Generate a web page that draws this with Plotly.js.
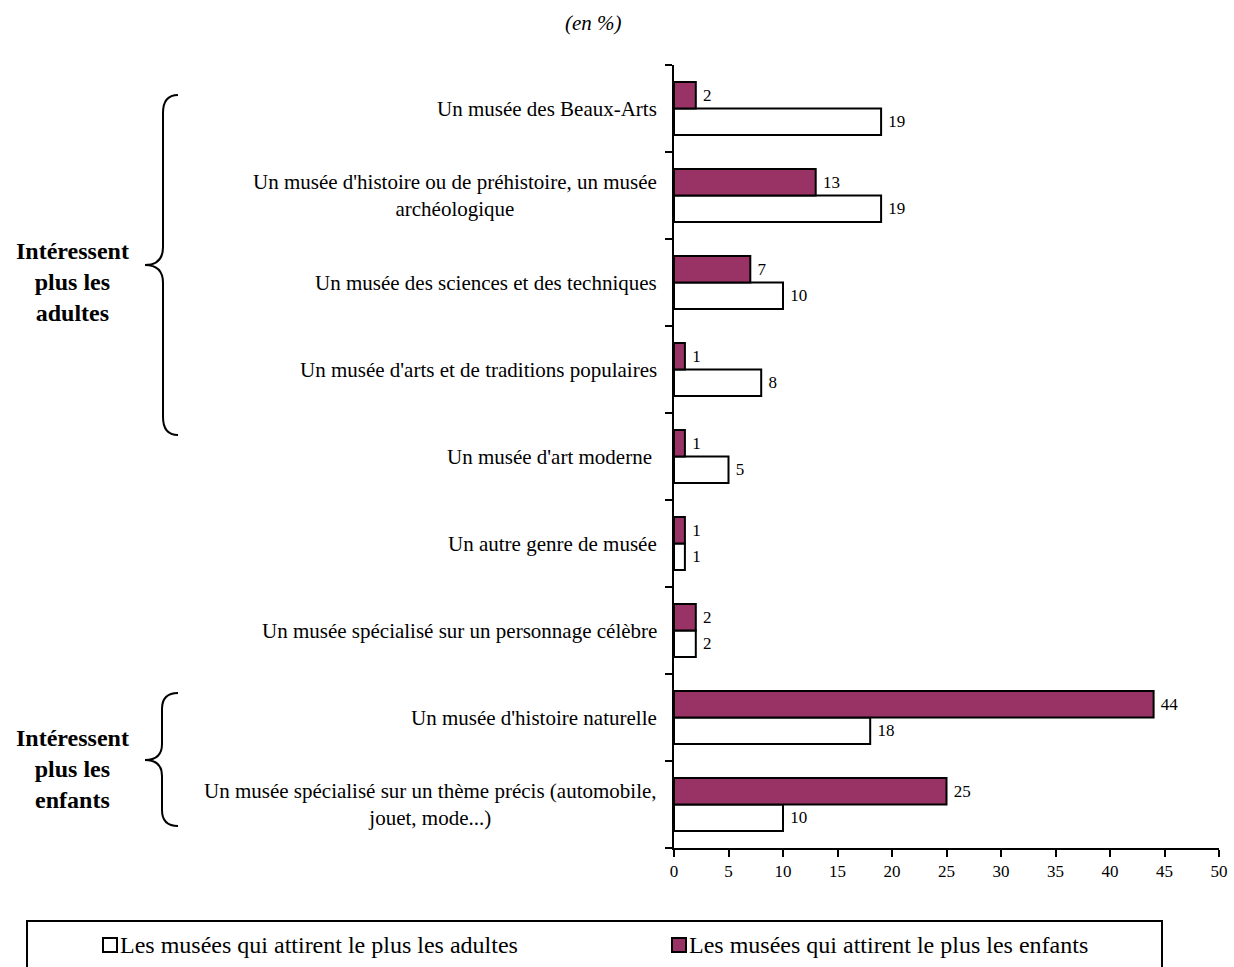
<!DOCTYPE html>
<html>
<head>
<meta charset="utf-8">
<script src="https://cdn.plot.ly/plotly-3.0.1.min.js"></script>
<style>html,body{margin:0;padding:0;background:#fff;}#chart{width:1234px;height:967px;}</style>
</head>
<body>
<div id="chart"></div>
<script>
const categories = [
  "Un musée des Beaux-Arts",
  "Un musée d'histoire ou de préhistoire, un musée<br>archéologique",
  "Un musée des sciences et des techniques",
  "Un musée d'arts et de traditions populaires",
  "Un musée d'art moderne ",
  "Un autre genre de musée",
  "Un musée spécialisé sur un personnage célèbre",
  "Un musée d'histoire naturelle",
  "Un musée spécialisé sur un thème précis (automobile,<br>jouet, mode...)"
];
const adultes = [19, 19, 10, 8, 5, 1, 2, 18, 10];
const enfants = [2, 13, 7, 1, 1, 1, 2, 44, 25];
const seriesNames = ["Les musées qui attirent le plus les adultes", "Les musées qui attirent le plus les enfants"];
const xTicks = [0, 5, 10, 15, 20, 25, 30, 35, 40, 45, 50];
const groupLabels = ["Intéressent<br>plus les<br>adultes", "Intéressent<br>plus les<br>enfants"];
const unitLabel = "<i>(en %)</i>";

const W = 1234, H = 967;
const M = {l: 674, r: 15, t: 65, b: 119};
const pw = W - M.l - M.r, ph = H - M.t - M.b;
const px = x => (x - M.l) / pw;
const py = y => (H - M.b - y) / ph;
const FONT = "Liberation Serif, Times New Roman, serif";
const PURPLE = "#993366";
const FILLS = ["#ffffff", PURPLE];

function bracePath(xEnd, xMid, xTip, yTop, yTip, yBot, r) {
  const P = (x, y) => px(x).toFixed(5) + "," + py(y).toFixed(5);
  return "M " + P(xEnd, yTop) + " Q " + P(xMid, yTop) + " " + P(xMid, yTop + r) +
    " L " + P(xMid, yTip - r) + " Q " + P(xMid, yTip) + " " + P(xTip, yTip) +
    " Q " + P(xMid, yTip) + " " + P(xMid, yTip + r) +
    " L " + P(xMid, yBot - r) + " Q " + P(xMid, yBot) + " " + P(xEnd, yBot);
}

const traces = [adultes, enfants].map((vals, i) => ({
  type: "bar", orientation: "h", name: seriesNames[i],
  y: categories, x: vals,
  marker: {color: FILLS[i], line: {color: "#000", width: 2}},
  texttemplate: " %{x}", textposition: "outside",
  textfont: {family: FONT, size: 17, color: "#000"},
  cliponaxis: false, hoverinfo: "skip"
}));

const annotations = categories.map(c => ({
  xref: "x", yref: "y", x: 0, y: c, xanchor: "right", yanchor: "middle",
  xshift: -15, text: c, showarrow: false, align: "center",
  font: {family: FONT, size: 21, color: "#000"}
}));
[[groupLabels[0], 282], [groupLabels[1], 769]].forEach(([t, y]) => annotations.push({
  xref: "paper", yref: "paper", x: px(72), y: py(y), xanchor: "center", yanchor: "middle",
  text: "<b>" + t + "</b>", showarrow: false, align: "center",
  font: {family: FONT, size: 24, color: "#000"}
}));
annotations.push({
  xref: "paper", yref: "paper", x: px(593), y: py(23), xanchor: "center", yanchor: "middle",
  text: unitLabel, showarrow: false,
  font: {family: FONT, size: 21, color: "#000"}
});

const shapes = [
  {type: "path", xref: "paper", yref: "paper", path: bracePath(178, 163, 145, 95, 265, 435, 18), line: {color: "#000", width: 2}},
  {type: "path", xref: "paper", yref: "paper", path: bracePath(178, 162, 145, 693, 760, 826, 16), line: {color: "#000", width: 2}},
  {type: "rect", xref: "paper", yref: "paper", x0: px(27), x1: px(1162), y0: py(921), y1: py(990), line: {color: "#000", width: 2}, fillcolor: "rgba(0,0,0,0)"}
];

// manual legend (squares + text)
const legendX = [103, 672];
seriesNames.forEach((n, i) => {
  shapes.push({type: "rect", xref: "paper", yref: "paper",
    x0: px(legendX[i]), x1: px(legendX[i] + 14), y0: py(938), y1: py(952),
    fillcolor: FILLS[i], line: {color: "#000", width: 2}});
  annotations.push({xref: "paper", yref: "paper", x: px(legendX[i] + 15), y: py(945),
    xanchor: "left", yanchor: "middle", text: n, showarrow: false,
    font: {family: FONT, size: 24, color: "#000"}});
});

const layout = {
  width: W, height: H,
  margin: M,
  paper_bgcolor: "#fff", plot_bgcolor: "#fff",
  barmode: "group", bargap: 0.39, bargroupgap: 0,
  font: {family: FONT, color: "#000"},
  showlegend: false,
  xaxis: {
    range: [0, 50], tickvals: xTicks, ticktext: xTicks.map(String),
    showgrid: false, zeroline: false, showline: true, linecolor: "#000", linewidth: 2,
    ticks: "outside", ticklen: 7, tickwidth: 2, tickcolor: "#000",
    tickfont: {family: FONT, size: 17, color: "#000"}, fixedrange: true
  },
  yaxis: {
    type: "category", categoryorder: "array", categoryarray: categories.slice().reverse(),
    showgrid: false, zeroline: false, showline: true, linecolor: "#000", linewidth: 2,
    ticks: "outside", ticklen: 7, tickwidth: 2, tickcolor: "#000", tickson: "boundaries",
    showticklabels: false, fixedrange: true
  },
  annotations: annotations,
  shapes: shapes
};

Plotly.newPlot("chart", traces, layout, {displayModeBar: false, staticPlot: true});
</script>
</body>
</html>
